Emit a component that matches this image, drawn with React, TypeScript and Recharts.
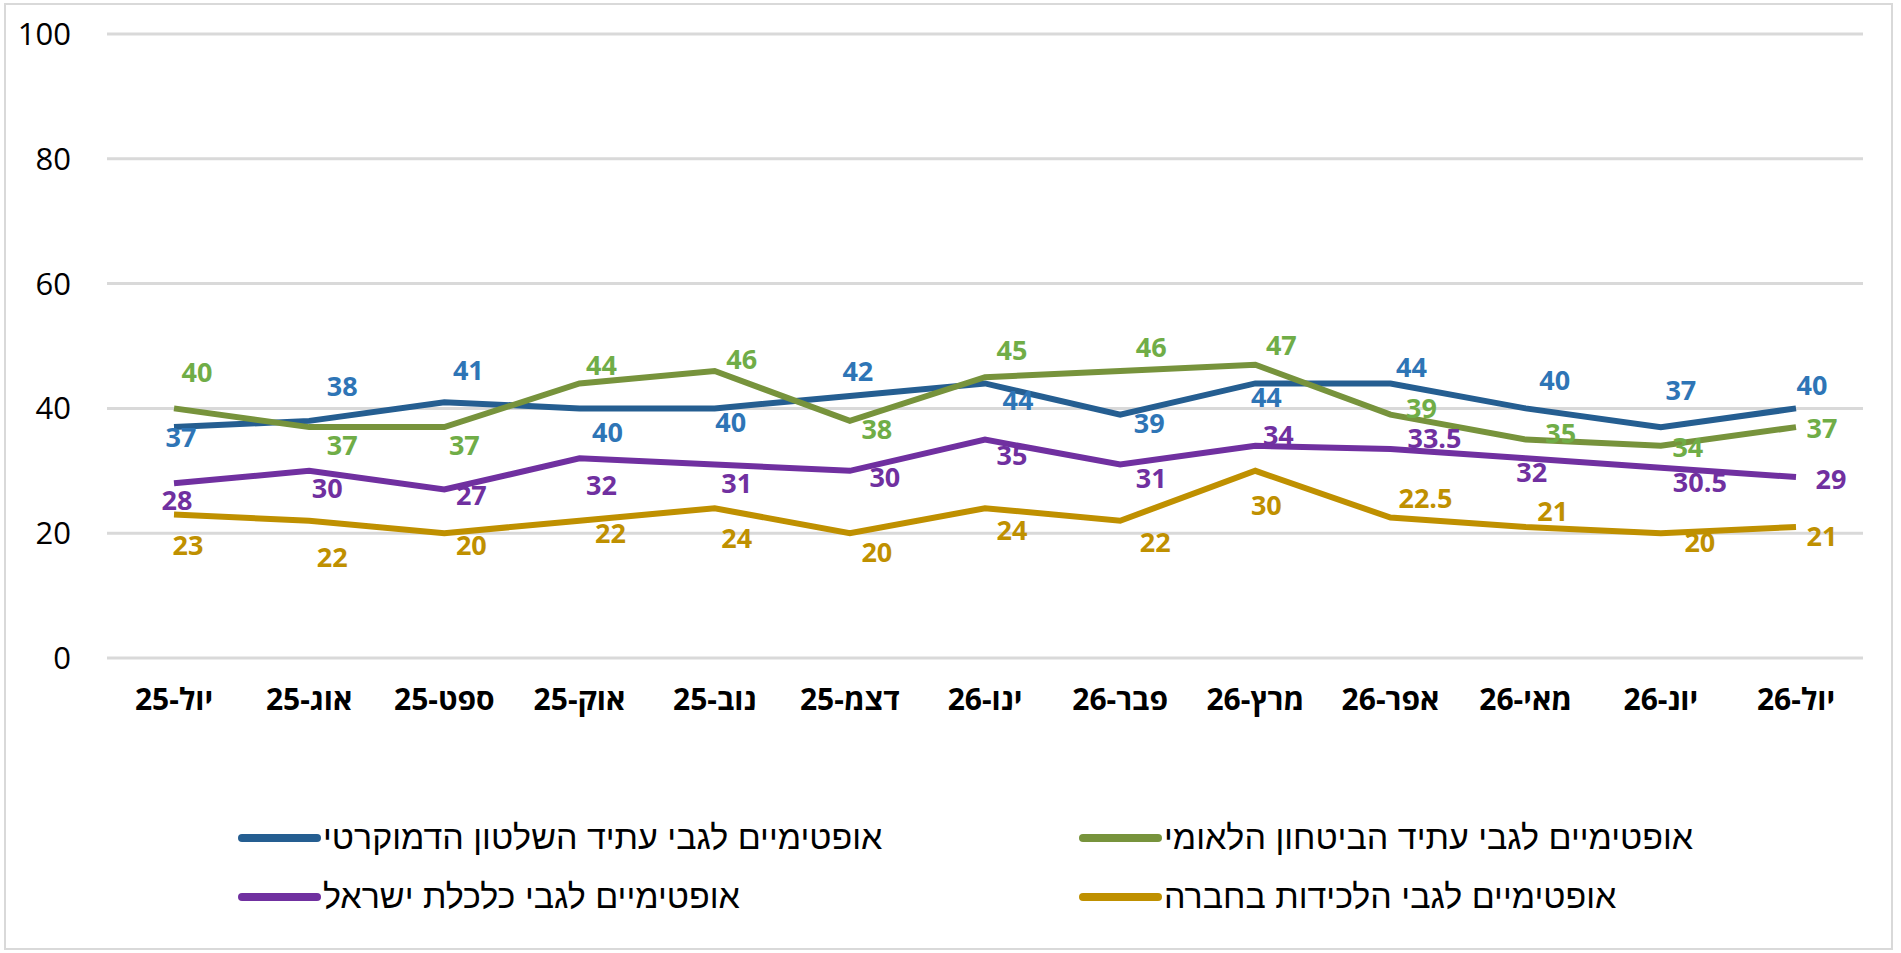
import React from "react";
import { LineChart, Line, XAxis, YAxis, CartesianGrid, Legend } from "recharts";

// months, oldest on the left
const months = [
  "יול-25", "אוג-25", "ספט-25", "אוק-25", "נוב-25", "דצמ-25", "ינו-26",
  "פבר-26", "מרץ-26", "אפר-26", "מאי-26", "יונ-26", "יול-26",
];
const democracy = [37, 38, 41, 40, 40, 42, 44, 39, 44, 44, 40, 37, 40];
const security = [40, 37, 37, 44, 46, 38, 45, 46, 47, 39, 35, 34, 37];
const economy = [28, 30, 27, 32, 31, 30, 35, 31, 34, 33.5, 32, 30.5, 29];
const cohesion = [23, 22, 20, 22, 24, 20, 24, 22, 30, 22.5, 21, 20, 21];
const yTicks = [0, 20, 40, 60, 80, 100];

const names = {
  democracy: "אופטימיים לגבי עתיד השלטון הדמוקרטי",
  security: "אופטימיים לגבי עתיד הביטחון הלאומי",
  economy: "אופטימיים לגבי כלכלת ישראל",
  cohesion: "אופטימיים לגבי הלכידות בחברה",
};

const data = months.map((m, i) => ({
  month: m,
  democracy: democracy[i],
  security: security[i],
  economy: economy[i],
  cohesion: cohesion[i],
}));

// label nudges relative to each point (dx, dy)
const blueOff = [[7, 9], [33, -35], [24, -33], [28, 23], [16, 13], [8, -25], [33, 16], [29, 8], [11, 13], [21, -17], [29, -29], [20, -38], [16, -24]];
const greenOff = [[23, -37], [33, 17], [20, 17], [22, -19], [27, -12], [27, 8], [27, -28], [31, -24], [26, -20], [31, -7], [35, -7], [27, 1], [26, 0]];
const purpleOff = [[3, 16], [18, 17], [27, 5], [22, 26], [22, 18], [35, 6], [27, 15], [31, 13], [23, -11], [44, -11], [6, 13], [39, 14], [35, 1]];
const goldOff = [[14, 30], [23, 36], [27, 11], [31, 12], [22, 29], [27, 18], [27, 21], [35, 21], [11, 34], [35, -20], [27, -16], [39, 8], [26, 9]];

const numFont = "'Open Sans', 'Liberation Sans', sans-serif";
const hebFont = "'Liberation Sans', 'DejaVu Sans', sans-serif";

const makeLabel = (color: string, off: number[][]) => (props: any) => {
  const { x, y, value, index } = props;
  const [dx, dy] = off[index] || [0, -20];
  return (
    <text
      x={x + dx}
      y={y + dy}
      fill={color}
      fontSize={27}
      fontWeight={700}
      fontFamily={numFont}
      textAnchor="middle"
      dominantBaseline="central"
    >
      {value}
    </text>
  );
};

const legendItems = [
  { key: "democracy", color: "#255E91" },
  { key: "security", color: "#77933C" },
  { key: "economy", color: "#7030A0" },
  { key: "cohesion", color: "#BF9000" },
];

const ChartLegend = () => (
  <div
    style={{
      display: "grid",
      gridTemplateColumns: "841px 760px",
      gridAutoRows: "59px",
      alignItems: "center",
    }}
  >
    {legendItems.map((it) => (
      <div key={it.key} style={{ display: "flex", alignItems: "center" }}>
        <div
          style={{
            width: 83,
            height: 8,
            borderRadius: 4,
            background: it.color,
            marginRight: 2,
          }}
        />
        <span style={{ fontFamily: hebFont, fontSize: 34, color: "#000" }}>
          {names[it.key as keyof typeof names]}
        </span>
      </div>
    ))}
  </div>
);

export default function App() {
  return (
    <div
      style={{
        position: "absolute",
        left: 4,
        top: 3,
        width: 1885,
        height: 943,
        border: "2px solid #D9D9D9",
        background: "#fff",
      }}
    >
      <LineChart
        width={1885}
        height={943}
        data={data}
        margin={{ top: 29, right: 28, left: 0, bottom: 230 }}
      >
        <CartesianGrid vertical={false} stroke="#D9D9D9" strokeWidth={3} />
        <XAxis
          dataKey="month"
          axisLine={false}
          tickLine={false}
          tickSize={0}
          tickMargin={31}
          height={60}
          interval={0}
          padding={{ left: 67, right: 67 }}
          tick={{ fontSize: 30, fontWeight: 700, fill: "#000", fontFamily: numFont }}
        />
        <YAxis
          domain={[0, 100]}
          ticks={yTicks}
          axisLine={false}
          tickLine={false}
          tickSize={0}
          tickMargin={36}
          width={101}
          tick={{ fontSize: 31, fill: "#000", fontFamily: numFont }}
        />
        <Legend
          verticalAlign="middle"
          align="center"
          layout="horizontal"
          wrapperStyle={{ top: 803, left: 232, width: 1620 }}
          content={() => <ChartLegend />}
        />
        <Line
          dataKey="democracy"
          name={names.democracy}
          stroke="#255E91"
          strokeWidth={6}
          dot={false}
          isAnimationActive={false}
          label={makeLabel("#2E75B6", blueOff)}
        />
        <Line
          dataKey="security"
          name={names.security}
          stroke="#77933C"
          strokeWidth={6}
          dot={false}
          isAnimationActive={false}
          label={makeLabel("#70AD47", greenOff)}
        />
        <Line
          dataKey="economy"
          name={names.economy}
          stroke="#7030A0"
          strokeWidth={6}
          dot={false}
          isAnimationActive={false}
          label={makeLabel("#7030A0", purpleOff)}
        />
        <Line
          dataKey="cohesion"
          name={names.cohesion}
          stroke="#BF9000"
          strokeWidth={6}
          dot={false}
          isAnimationActive={false}
          label={makeLabel("#BF9000", goldOff)}
        />
      </LineChart>
    </div>
  );
}
